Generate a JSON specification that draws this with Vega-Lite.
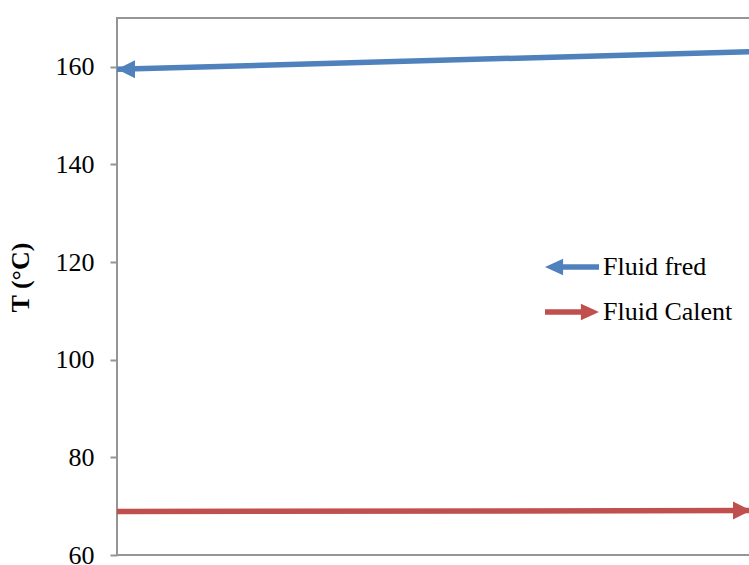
{
  "$schema": "https://vega.github.io/schema/vega-lite/v6.json",
  "width": 634,
  "height": 537,
  "autosize": "none",
  "padding": {"left": 117, "top": 18, "right": 0, "bottom": 10},
  "background": "white",
  "config": {
    "view": {"stroke": "#959595", "strokeWidth": 2},
    "font": "Liberation Serif"
  },
  "data": {
    "values": [
      {"series": "Fluid fred", "x": 0, "T": 159.5, "head": true},
      {"series": "Fluid fred", "x": 1, "T": 163.1, "head": false},
      {"series": "Fluid Calent", "x": 0, "T": 68.9, "head": false},
      {"series": "Fluid Calent", "x": 1, "T": 69.1, "head": true}
    ]
  },
  "encoding": {
    "x": {"field": "x", "type": "quantitative", "scale": {"domain": [0, 1], "nice": false, "zero": false}, "axis": null},
    "y": {
      "field": "T", "type": "quantitative",
      "scale": {"domain": [60, 170], "nice": false, "zero": false},
      "axis": {
        "title": "T (°C)",
        "values": [60, 80, 100, 120, 140, 160],
        "grid": false,
        "domain": false,
        "tickColor": "#959595",
        "tickWidth": 2,
        "tickSize": 7,
        "labelPadding": 16,
        "labelFont": "Liberation Serif",
        "labelFontSize": 26,
        "labelColor": "#000000",
        "titleFont": "Liberation Serif",
        "titleFontSize": 26,
        "titleFontWeight": "bold",
        "titleColor": "#000000",
        "titlePadding": 22,
        "titleY": 259
      }
    },
    "color": {
      "field": "series", "type": "nominal",
      "scale": {"domain": ["Fluid fred", "Fluid Calent"], "range": ["#4F81BD", "#C0504D"]}
    }
  },
  "layer": [
    {
      "mark": {"type": "line", "strokeWidth": 5.5},
      "encoding": {
        "color": {
          "field": "series", "type": "nominal",
          "legend": {
            "title": null,
            "orient": "none",
            "legendX": 428,
            "legendY": 222,
            "padding": 0,
            "rowPadding": 5,
            "symbolSize": 2916,
            "symbolStrokeWidth": 0,
            "labelFont": "Liberation Serif",
            "labelFontSize": 26,
            "labelColor": "#000000",
            "labelOffset": 4,
            "labelLimit": 400,
            "encode": {
              "symbols": {
                "update": {
                  "shape": {"signal": "datum.value === 'Fluid fred' ? 'M-1,0L-0.33,-0.31L-0.33,-0.1L1,-0.1L1,0.1L-0.33,0.1L-0.33,0.31Z' : 'M1,0L0.33,-0.31L0.33,-0.1L-1,-0.1L-1,0.1L0.33,0.1L0.33,0.31Z'"},
                  "fill": {"scale": "color", "field": "value"},
                  "stroke": {"value": "transparent"},
                  "strokeWidth": {"value": 0},
                  "opacity": {"value": 1}
                }
              }
            }
          }
        }
      }
    },
    {
      "transform": [{"filter": "datum.head && datum.series === 'Fluid fred'"}],
      "mark": {"type": "point", "filled": true, "opacity": 1, "size": 324, "shape": "M0,0L2,-1L2,1Z"},
      "encoding": {
        "color": {"field": "series", "type": "nominal", "legend": null}
      }
    },
    {
      "transform": [{"filter": "datum.head && datum.series === 'Fluid Calent'"}],
      "mark": {"type": "point", "filled": true, "opacity": 1, "size": 324, "shape": "M0,0L-2,-1L-2,1Z"},
      "encoding": {
        "color": {"field": "series", "type": "nominal", "legend": null}
      }
    }
  ]
}
